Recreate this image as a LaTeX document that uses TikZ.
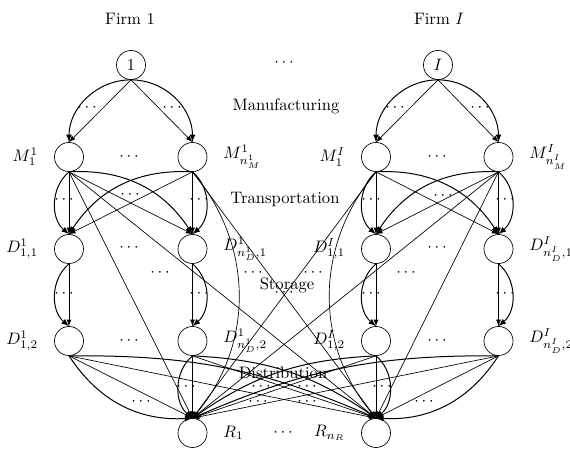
\documentclass[tikz,border=0pt]{standalone}
\usetikzlibrary{positioning}
\begin{document}
\begin{tikzpicture}[x=0.6024pt,y=0.6024pt,>=latex,node distance=9.5pt]
	\tikzstyle{stage}=[circle,draw,thin,minimum size=17.5pt,inner sep=0pt]
	\tikzstyle{tag}=[inner sep=0pt]
	\tikzstyle{link}=[->,thin]
	\tikzstyle{alt}=[->,semithick]
	\useasboundingbox (0,0) rectangle (570,-449);

	\node (firm1) at (130,-19) {Firm 1};
	\node (firmI) at (439,-19) {Firm $I$};

	\node [stage] (F1) at (131,-65) {1};
	\node [stage] (FI) at (438,-65) {$I$};

	\node [stage] (M11) at (69,-157) {};
	\node [stage] (M1n) at (192.5,-157) {};
	\node [stage] (MI1) at (376,-157) {};
	\node [stage] (MIn) at (498.5,-157) {};

	\node [stage] (D111) at (69,-249) {};
	\node [stage] (D1n1) at (192.5,-249) {};
	\node [stage] (DI11) at (376,-249) {};
	\node [stage] (DIn1) at (498.5,-249) {};

	\node [stage] (D112) at (69,-341) {};
	\node [stage] (D1n2) at (192.5,-341) {};
	\node [stage] (DI12) at (376,-341) {};
	\node [stage] (DIn2) at (498.5,-341) {};

	\node [stage] (R1) at (192.5,-433) {};
	\node [stage] (Rn) at (376,-433) {};

	% node names
	\node [tag,left=of M11] (tM11) {$M^1_1$};
	\node [tag,right=of M1n] (tM1n) {$M^1_{n^1_M}$};
	\node [tag,left=of MI1] (tMI1) {$M^I_1$};
	\node [tag,right=of MIn] (tMIn) {$M^I_{n^I_M}$};
	\node [tag,left=of D111] (tD111) {$D^1_{1,1}$};
	\node [tag,right=of D1n1] (tD1n1) {$D^1_{n^1_D,1}$};
	\node [tag,left=of DI11] (tDI11) {$D^I_{1,1}$};
	\node [tag,right=of DIn1] (tDIn1) {$D^I_{n^I_D,1}$};
	\node [tag,left=of D112] (tD112) {$D^1_{1,2}$};
	\node [tag,right=of D1n2] (tD1n2) {$D^1_{n^1_D,2}$};
	\node [tag,left=of DI12] (tDI12) {$D^I_{1,2}$};
	\node [tag,right=of DIn2] (tDIn2) {$D^I_{n^I_D,2}$};
	\node [tag,right=of R1] (tR1) {$R_1$};
	\node [tag,left=of Rn] (tRn) {$R_{n_R}$};

	% stages
	\node (manu) at (286,-106) {Manufacturing};
	\node (trans) at (285,-199) {Transportation};
	\node (stor) at (287,-285) {Storage};
	\node (distr) at (283,-373) {Distribution};

	\foreach \x/\y [count=\i] in
	{284/63,87/108,172/108,395/108,480/108,129/157,437/157,64/200,130/195,199/200,371/200,443/196,505/200,129/248,437/248,160/273,253/273,313/273,406/273,64/294,199/294,371/294,505/294,284/293,129/341,437/341,141/402,186/387,261/387,258/402,307/387,307/402,382/387,424/402,283/433}
	  \node (dots\i) at (\x,-\y) {$\cdots$};

	\draw [alt] (F1.south) to[out=180,in=90] (M11.north);
	\draw [alt] (F1.south) to[out=0,in=90] (M1n.north);
	\draw [alt] (FI.south) to[out=180,in=90] (MI1.north);
	\draw [alt] (FI.south) to[out=0,in=90] (MIn.north);

	\foreach \source/\dest in
	{F1/M11,F1/M1n,FI/MI1,FI/MIn,M11/D111,M11/D1n1,M1n/D111,M1n/D1n1,MI1/DI11,MI1/DIn1,MIn/DI11,MIn/DIn1,D111/D112,D1n1/D1n2,DI11/DI12,DIn1/DIn2,D112/R1,D112/Rn,D1n2/R1,D1n2/Rn,DI12/R1,DI12/Rn,DIn2/R1,DIn2/Rn,M11/R1,M11/Rn,M1n/Rn,MI1/R1,MIn/R1,MIn/Rn}
	  \draw [link] (\source.south) -- (\dest.north);

	\foreach \source/\dest/\b in
	{M11/D111/-50,M1n/D1n1/50,M11/D1n1/30,M1n/D111/-30,MI1/DI11/-50,MIn/DIn1/50,MI1/DIn1/30,MIn/DI11/-30,D111/D112/-50,D1n1/D1n2/50,DI11/DI12/-50,DIn1/DIn2/50,D112/R1/-30,D1n2/R1/-50,D112/Rn/12,D1n2/Rn/16,DI12/R1/-16,DIn2/R1/-12,DI12/Rn/50,DIn2/Rn/30}
	  \draw [alt] (\source.south) to[bend left=\b] (\dest.north);

	\draw [link] (M1n.south) to[bend left=40] (R1.north);
	\draw [link] (MI1.south) to[bend right=40] (Rn.north);
\end{tikzpicture}
\end{document}
